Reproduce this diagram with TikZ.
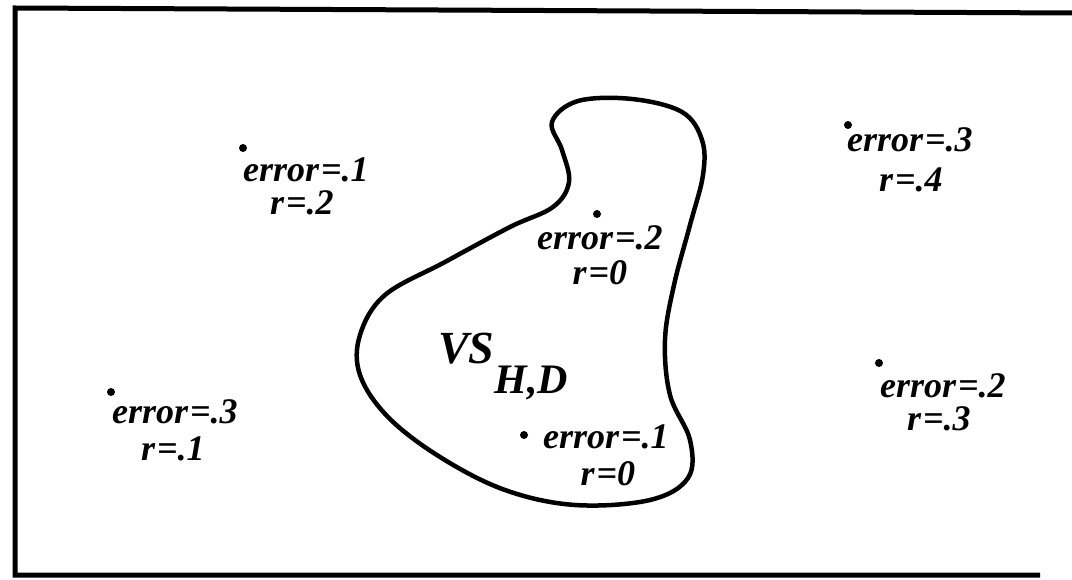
\documentclass[tikz,border=0pt]{standalone}
\usepackage{fontspec}
\setmainfont{Liberation Serif}
\begin{document}
\begin{tikzpicture}[x=1pt,y=-1pt,
  lbl/.style={font=\fontsize{36}{38}\selectfont\bfseries\itshape, inner sep=0pt, anchor=base},
  pt/.style={fill=black, circle, inner sep=0pt, minimum size=8pt},
  frameline/.style={line width=5pt},
  blobline/.style={line width=4.5pt}]
\useasboundingbox (0,0) rectangle (1072,580);
% frame (right side open)
\coordinate (ftr) at (1072,13);
\coordinate (ftl) at (15,8);
\coordinate (fbl) at (15,575);
\coordinate (fbr) at (1040,575);
\draw[frameline] (ftr) -- (ftl) -- (fbl) -- (fbr);
% version space region
\draw[blobline] plot[smooth cycle, tension=0.6] coordinates {
 (578,101) (632,99) (682,112) (702,140) (703,175) (690,225) (674,285)
 (665,340) (670,395) (690,440) (688,478) (650,500) (575,505) (505,490)
 (440,457) (388,417) (360,375) (360,335) (385,295) (445,262) (510,227)
 (553,207) (569,182) (562,150) (552,122)};
% hypotheses
\node[pt] (d1) at (243,148) {};
\node[lbl] (e1) at (306,182) {error\kern2pt=.1};
\node[lbl] (r1) at (302,215) {r\kern2pt=.2};
\node[pt] (d2) at (848,125) {};
\node[lbl] (e2) at (910,152) {error\kern2pt=.3};
\node[lbl] (r2) at (911,192) {r\kern2pt=.4};
\node[pt] (d3) at (597,214) {};
\node[lbl] (e3) at (600,250) {error\kern2pt=.2};
\node[lbl] (r3) at (600,285) {r\kern2pt=0};
\node[pt] (d4) at (524,435) {};
\node[lbl] (e4) at (606,448) {error\kern2pt=.1};
\node[lbl] (r4) at (608,485) {r\kern2pt=0};
\node[pt] (d5) at (111,392) {};
\node[lbl] (e5) at (175,423) {error\kern2pt=.3};
\node[lbl] (r5) at (173,460) {r\kern2pt=.1};
\node[pt] (d6) at (879,363) {};
\node[lbl] (e6) at (943,397) {error\kern2pt=.2};
\node[lbl] (r6) at (939,430) {r\kern2pt=.3};
% label of the region
\node[lbl, anchor=base west] (vs) at (438,363)
  {\fontsize{46}{48}\selectfont VS\raisebox{-30pt}{\fontsize{42}{44}\selectfont H,D}};
\end{tikzpicture}
\end{document}
